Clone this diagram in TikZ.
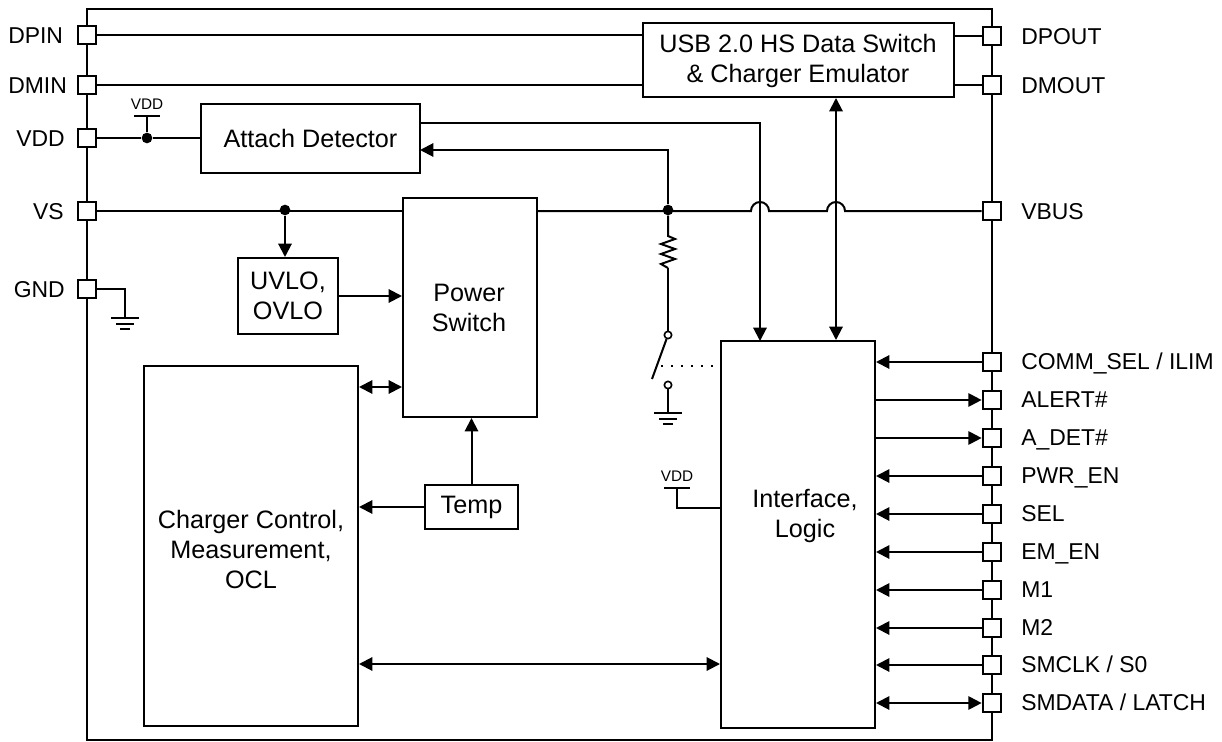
\documentclass[tikz,border=0pt]{standalone}
\usepackage{fontspec}
\setmainfont{Liberation Sans}
\usetikzlibrary{arrows.meta}
\tikzset{
	wire/.style={line width=1.5pt},
	arrowwire/.style={wire,-{Triangle[length=10pt,width=10pt]}},
	biwire/.style={wire,{Triangle[length=10pt,width=10pt]}-{Triangle[length=10pt,width=10pt]}},
	blockbox/.style={draw,line width=1.5pt,fill=white,inner sep=0pt,align=center,font=\fontsize{18.9}{22.5}\selectfont},
	blocktext/.style={inner sep=0pt,align=center,font=\fontsize{18.9}{22.5}\selectfont},
	pinbox/.style={draw,line width=1.5pt,fill=white,inner sep=0pt,minimum width=14pt,minimum height=14pt},
	pinlabel/.style={inner sep=0pt,text height=12.3pt,text depth=0pt,font=\fontsize{17.2}{20}\selectfont},
	smalllabel/.style={inner sep=0pt,font=\fontsize{11.5}{14}\selectfont},
	junction/.style={circle,fill=black,inner sep=0pt,minimum size=8pt},
	contact/.style={circle,draw,line width=1.2pt,fill=white,inner sep=0pt,minimum size=5.5pt}
}
\begin{document}
\begin{tikzpicture}[x=0.75pt,y=0.75pt,yscale=-1,xscale=1]
	\useasboundingbox (0,0) rectangle (1222,742);
	\node [draw,line width=1.5pt,minimum width=678.75pt,minimum height=548.25pt] (chip) at (539.5,374.5) {};

	\node [pinbox] (dpin) at (87,35) {};
	\node [pinbox] (dmin) at (87,85) {};
	\node [pinbox] (vdd) at (87,138) {};
	\node [pinbox] (vs) at (87,211) {};
	\node [pinbox] (gnd) at (87,289) {};
	\node [pinbox] (dpout) at (992,36) {};
	\node [pinbox] (dmout) at (992,85) {};
	\node [pinbox] (vbus) at (992,211) {};
	\node [pinbox] (commsel) at (992,362) {};
	\node [pinbox] (alert) at (992,400) {};
	\node [pinbox] (adet) at (992,438) {};
	\node [pinbox] (pwren) at (992,476) {};
	\node [pinbox] (sel) at (992,514) {};
	\node [pinbox] (emen) at (992,552) {};
	\node [pinbox] (mone) at (992,590) {};
	\node [pinbox] (mtwo) at (992,628) {};
	\node [pinbox] (smclk) at (992,665) {};
	\node [pinbox] (smdata) at (992,703) {};

	\node [pinlabel,anchor=west] (ldpin) at (8,35) {DPIN};
	\node [pinlabel,anchor=west] (ldmin) at (8,85) {DMIN};
	\node [pinlabel,anchor=east] (lvdd) at (65,138) {VDD};
	\node [pinlabel,anchor=east] (lvs) at (64,211) {VS};
	\node [pinlabel,anchor=east] (lgnd) at (65,289) {GND};
	\node [pinlabel,anchor=west] (ldpout) at (1021,36) {DPOUT};
	\node [pinlabel,anchor=west] (ldmout) at (1021,85) {DMOUT};
	\node [pinlabel,anchor=west] (lvbus) at (1021,211) {VBUS};
	\node [pinlabel,anchor=west] (lcommsel) at (1021,361) {COMM\_SEL / ILIM};
	\node [pinlabel,anchor=west] (lalert) at (1021,399) {ALERT\#};
	\node [pinlabel,anchor=west] (ladet) at (1021,437) {A\_DET\#};
	\node [pinlabel,anchor=west] (lpwren) at (1021,475) {PWR\_EN};
	\node [pinlabel,anchor=west] (lsel) at (1021,513) {SEL};
	\node [pinlabel,anchor=west] (lemen) at (1021,551) {EM\_EN};
	\node [pinlabel,anchor=west] (lmone) at (1021,589) {M1};
	\node [pinlabel,anchor=west] (lmtwo) at (1021,627) {M2};
	\node [pinlabel,anchor=west] (lsmclk) at (1021,664) {SMCLK / S0};
	\node [pinlabel,anchor=west] (lsmdata) at (1021,702) {SMDATA / LATCH};

	\node [blockbox,minimum width=233.25pt,minimum height=55.5pt] (usb) at (798.5,60) {};
	\node [blocktext] (lusb) at (798,61) {USB 2.0 HS Data Switch\\\& Charger Emulator};
	\node [blockbox,minimum width=164.25pt,minimum height=51.75pt] (attach) at (310.5,138.5) {Attach Detector};
	\node [blockbox,minimum width=100.5pt,minimum height=164.25pt] (psw) at (470,307.5) {};
	\node [blocktext] (lpsw) at (469,308) {Power\\Switch};
	\node [blockbox,minimum width=75pt,minimum height=57pt] (uvlo) at (288,296) {UVLO,\\OVLO};
	\node [blockbox,minimum width=160.5pt,minimum height=270pt] (charger) at (251,546) {};
	\node [blocktext] (lcharger) at (251,549) {Charger Control,\\Measurement,\\OCL};
	\node [blockbox,minimum width=69.75pt,minimum height=33pt] (temp) at (471.5,507) {Temp};
	\node [blockbox,minimum width=115.5pt,minimum height=290.25pt] (logic) at (798,534.5) {};
	\node [blocktext] (llogic) at (805,515.5) {Interface,\\Logic};

	\draw [wire] (dpin.east) -- (usb.west |- dpin);
	\draw [wire] (dmin.east) -- (usb.west |- dmin);
	\draw [wire] (usb.east |- dpout) -- (dpout.west);
	\draw [wire] (usb.east |- dmout) -- (dmout.west);

	\node [junction] (vddjoin) at (147,138) {};
	\coordinate (vddtop) at (147,116);
	\draw [wire] (vdd.east) -- (vddjoin) -- (attach.west |- vddjoin);
	\draw [wire] (vddjoin) -- (vddtop);
	\draw [wire] (134,116) -- (160,116);
	\node [smalllabel] (lvddtop) at (147,104) {VDD};

	\node [junction] (vsjoin) at (285,210) {};
	\node [junction] (busjoin) at (668,210) {};
	\draw [wire] (vs.east) -- (psw.west |- vs);
	\draw [arrowwire] (vsjoin) -- (uvlo.north -| vsjoin);
	\draw [arrowwire] (uvlo.east) -- (psw.west |- uvlo);

	\coordinate (hopa) at (760,211);
	\coordinate (hopb) at (836,211);
	\draw [wire] (psw.east |- vs) -- ([xshift=-6.75pt]hopa) arc (180:360:9) -- ([xshift=-6.75pt]hopb) arc (180:360:9) -- (vbus.west);

	\coordinate (attachout) at (420,123);
	\coordinate (attachin) at (420,150);
	\draw [arrowwire] (attachout) -| (760,341);
	\draw [arrowwire] (busjoin) |- (attachin);
	\draw [biwire] (usb.south -| hopb) -- (logic.north -| hopb);

	\coordinate (restop) at (668,236);
	\coordinate (resbot) at (668,268);
	\draw [wire] (busjoin) -- (restop) -- ++(7,3) -- ++(-14,5) -- ++(14,5) -- ++(-14,5) -- ++(14,5) -- ++(-14,5) -- (resbot);
	\node [contact] (swtop) at (668,335) {};
	\node [contact] (swbot) at (668,385) {};
	\draw [wire] (resbot) -- (swtop);
	\draw [wire] (swtop) -- (652,379);
	\draw [wire,dash pattern={on 1.5pt off 6pt}] (661,366) -- (logic.west |- 661,366);
	\coordinate (gndb) at (668,413);
	\draw [wire] (swbot) -- (gndb);
	\draw [wire] (654,413) -- (682,413);
	\draw [wire] (659,419) -- (677,419);
	\draw [wire] (663,424) -- (673,424);

	\coordinate (gnda) at (125,318);
	\draw [wire] (gnd.east) -| (gnda);
	\draw [wire] (111,318) -- (139,318);
	\draw [wire] (116,324) -- (134,324);
	\draw [wire] (120,329) -- (130,329);

	\coordinate (swlink) at (380,387);
	\coordinate (datalink) at (540,664);
	\draw [biwire] (charger.east |- swlink) -- (psw.west |- swlink);
	\draw [biwire] (charger.east |- datalink) -- (logic.west |- datalink);
	\draw [arrowwire] (temp.north) -- (psw.south -| temp.north);
	\draw [arrowwire] (temp.west) -- (charger.east |- temp);

	\coordinate (vddlogic) at (677,508);
	\draw [wire] (logic.west |- vddlogic) -- (vddlogic) -- (677,488);
	\draw [wire] (664,488) -- (690,488);
	\node [smalllabel] (lvddlogic) at (677,476) {VDD};

	\draw [arrowwire] (commsel.west) -- (logic.east |- commsel);
	\draw [arrowwire] (logic.east |- alert) -- (alert.west);
	\draw [arrowwire] (logic.east |- adet) -- (adet.west);
	\draw [arrowwire] (pwren.west) -- (logic.east |- pwren);
	\draw [arrowwire] (sel.west) -- (logic.east |- sel);
	\draw [arrowwire] (emen.west) -- (logic.east |- emen);
	\draw [arrowwire] (mone.west) -- (logic.east |- mone);
	\draw [arrowwire] (mtwo.west) -- (logic.east |- mtwo);
	\draw [arrowwire] (smclk.west) -- (logic.east |- smclk);
	\draw [biwire] (logic.east |- smdata) -- (smdata.west);
\end{tikzpicture}
\end{document}
